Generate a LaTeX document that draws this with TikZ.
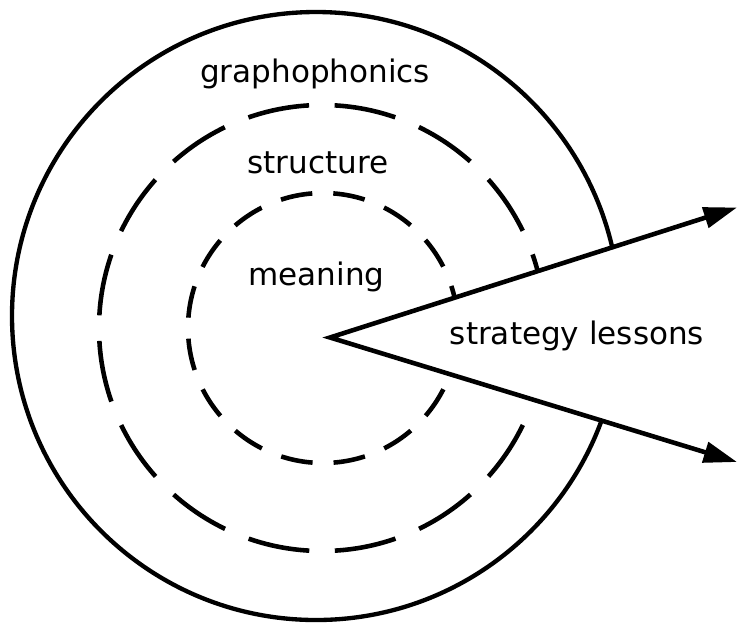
\documentclass[tikz,border=0pt]{standalone}
\usepackage{fontspec}
\setmainfont{DejaVu Sans}
\usetikzlibrary{arrows.meta,calc}

\begin{document}
\begin{tikzpicture}[
  x=0.03cm,y=-0.03cm,
  cue/.style={font=\fontsize{26.5}{30}\selectfont,anchor=base,inner sep=0pt},
  ring/.style={line width=3.7pt},
  midring/.style={line width=3.9pt,dash pattern=on 1.86cm off 0.767cm,dash phase=2.244cm},
  innring/.style={line width=3.9pt,dash pattern=on 0.96cm off 0.63cm,dash phase=1.275cm},
  arrow/.style={line width=3.9pt,{Triangle[length=1cm,width=0.62cm]}-{Triangle[length=1cm,width=0.62cm]}}
]
\useasboundingbox (0,0) rectangle (739,630);
\coordinate (apex) at (330,337.5);
\coordinate (tipA) at (737,207.5);
\coordinate (tipB) at (737,462);
\begin{scope}
\clip (-10,-10) -- (760,-10) -- ($(apex)!1.1!(tipA)$) -- (apex) -- ($(apex)!1.1!(tipB)$) -- (760,640) -- (-10,640) -- cycle;
\draw[ring] (316,316) circle (304);
\draw[midring] (322,328) circle (223);
\draw[innring] (323,328) circle (135);
\end{scope}
\draw[arrow] (tipA) -- (apex) -- (tipB);
\node[cue] (grapho) at (315,82) {graphophonics};
\node[cue] (struct) at (318,173.5) {structure};
\node[cue] (mean) at (316.5,285) {meaning};
\node[cue] (lessons) at (577,344.5) {strategy lessons};
\end{tikzpicture}
\end{document}
